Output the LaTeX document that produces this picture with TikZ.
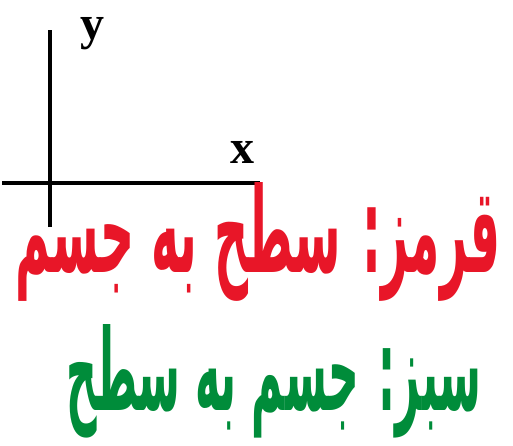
\documentclass[tikz,border=0pt]{standalone}
\usepackage{fontspec}
\setmainfont{Liberation Serif}
\newfontfamily\arabicfont[Script=Arabic]{DejaVu Sans}
\TeXXeTstate=1
\usetikzlibrary{positioning}
\definecolor{hwred}{RGB}{232,22,40}
\definecolor{hwgreen}{RGB}{0,140,58}

\begin{document}
\begin{tikzpicture}[
  x=1pt,y=-1pt,
  axis/.style={line width=3.3pt},
  axlabel/.style={font=\fontsize{48}{48}\selectfont\bfseries,inner sep=0pt},
  note/.style={font=\arabicfont\bfseries\fontsize{40}{40}\selectfont,inner sep=0pt}
]
  \useasboundingbox (0,0) rectangle (513,446);
  \coordinate (o) at (50,183);
  \coordinate (ytop) at (50,30);
  \coordinate (ybot) at (50,227);
  \coordinate (xleft) at (2,183);
  \coordinate (xright) at (260,183);
  \draw[axis] (ybot) -- (ytop);
  \draw[axis] (xleft) -- (xright);
  \node[axlabel] (ylab) at (92,34) {y};
  \node[axlabel] (xlab) at (242,152) {x};

  \node[note,text=hwred] (red) at (258,242)
    {\resizebox{485pt}{90pt}{\beginR قرمز: سطح به جسم\endR}};
  \node[note,text=hwgreen] (green) at (274,381)
    {\resizebox{415pt}{86pt}{\beginR سبز: جسم به سطح\endR}};
\end{tikzpicture}
\end{document}
